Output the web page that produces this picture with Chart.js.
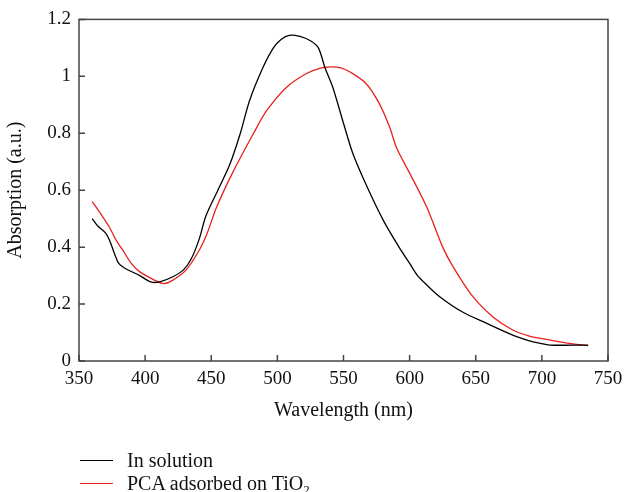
<!DOCTYPE html>
<html>
<head>
<meta charset="utf-8">
<script src="https://cdn.jsdelivr.net/npm/chart.js@4"></script>
<style>
  html, body { margin: 0; padding: 0; background: #fff; }
  #wrap { position: relative; width: 625px; height: 492px; }
  #legend { position: absolute; left: 80px; top: 449px; font-family: "Liberation Serif", "DejaVu Serif", serif; font-size: 20px; color: #111; }
  .item { display: flex; align-items: center; height: 23px; }
  .swatch { width: 33px; height: 0; border-top: 1.5px solid #000; margin-right: 14px; }
  sub { font-size: 13px; vertical-align: -4px; line-height: 0; }
</style>
</head>
<body>
<div id="wrap">
  <canvas id="chart" width="625" height="492"></canvas>
  <div id="legend">
    <div class="item"><span class="swatch"></span><span>In solution</span></div>
    <div class="item"><span class="swatch" style="border-color:#e8201f"></span><span>PCA adsorbed on TiO<sub>2</sub></span></div>
  </div>
</div>
<script>
// wavelength (nm) / absorption
const wlSolution = [360, 364, 370, 373, 377, 380, 385, 396, 404, 411, 421, 429, 435, 441, 446, 455, 464, 472, 479, 489, 497, 503, 509, 517, 525, 531, 536, 542, 550, 557, 568, 580, 592, 600, 606, 613, 623, 640, 658, 678, 690, 698, 706, 735];
const absSolution = [0.50, 0.475, 0.45, 0.425, 0.375, 0.343, 0.325, 0.30, 0.278, 0.278, 0.296, 0.32, 0.36, 0.43, 0.51, 0.60, 0.69, 0.80, 0.915, 1.03, 1.10, 1.13, 1.144, 1.14, 1.125, 1.10, 1.03, 0.96, 0.835, 0.73, 0.61, 0.495, 0.40, 0.343, 0.30, 0.267, 0.225, 0.172, 0.133, 0.091, 0.072, 0.063, 0.056, 0.056];

const wlAdsorbed = [360, 366, 373, 378, 383, 390, 396, 406, 414, 421, 431, 441, 447, 454, 466, 482, 492, 507, 522, 532, 540, 548, 555, 567, 577, 585, 590, 600, 613, 625, 633, 648, 663, 678, 690, 698, 719, 735];
const absAdsorbed = [0.56, 0.52, 0.47, 0.425, 0.39, 0.34, 0.313, 0.287, 0.272, 0.284, 0.32, 0.39, 0.45, 0.54, 0.66, 0.80, 0.88, 0.962, 1.01, 1.028, 1.033, 1.03, 1.015, 0.975, 0.905, 0.82, 0.75, 0.66, 0.54, 0.40, 0.33, 0.225, 0.155, 0.109, 0.088, 0.08, 0.063, 0.054];

const xTicks = [350, 400, 450, 500, 550, 600, 650, 700, 750];
const yTicks = [0, 0.2, 0.4, 0.6, 0.8, 1, 1.2];

const toPoints = (xs, ys) => xs.map((x, i) => ({ x: x, y: ys[i] }));

const axisColor = '#444';
const tickFont = { family: '"Liberation Serif", "DejaVu Serif", serif', size: 19 };
const titleFont = { family: '"Liberation Serif", "DejaVu Serif", serif', size: 20 };

// inward ticks + closing box
const frame = {
    id: 'frame',
    afterDraw(chart) {
        const { ctx, chartArea: a, scales } = chart;
        ctx.save();
        ctx.strokeStyle = axisColor;
        ctx.lineWidth = 1.5;
        ctx.strokeRect(a.left, a.top, a.right - a.left, a.bottom - a.top);
        ctx.beginPath();
        xTicks.forEach(v => {
            const px = scales.x.getPixelForValue(v);
            ctx.moveTo(px, a.bottom);
            ctx.lineTo(px, a.bottom - 6);
        });
        yTicks.forEach(v => {
            const py = scales.y.getPixelForValue(v);
            ctx.moveTo(a.left, py);
            ctx.lineTo(a.left + 6, py);
        });
        ctx.stroke();
        ctx.restore();
    }
};

new Chart(document.getElementById('chart'), {
    type: 'line',
    data: {
        datasets: [{
            label: 'In solution',
            data: toPoints(wlSolution, absSolution),
            borderColor: '#000',
            borderWidth: 1.3,
            pointRadius: 0,
            tension: 0.3,
            fill: false
        }, {
            label: 'PCA adsorbed on TiO2',
            data: toPoints(wlAdsorbed, absAdsorbed),
            borderColor: '#e8201f',
            borderWidth: 1.3,
            pointRadius: 0,
            tension: 0.3,
            fill: false
        }]
    },
    options: {
        responsive: false,
        animation: false,
        layout: { padding: { top: 19, right: 17, bottom: 65, left: 0 } },
        plugins: { legend: { display: false }, tooltip: { enabled: false } },
        scales: {
            x: {
                type: 'linear',
                min: 350,
                max: 750,
                afterBuildTicks: s => { s.ticks = xTicks.map(v => ({ value: v })); },
                afterFit: s => { s.height = 66; s.paddingLeft = 0; s.paddingRight = 0; },
                ticks: { color: '#111', font: tickFont, padding: 7, maxRotation: 0, callback: v => String(v) },
                grid: { display: false, drawTicks: false },
                border: { display: false },
                title: { display: true, text: 'Wavelength (nm)', color: '#111', font: titleFont, padding: { top: 2 } }
            },
            y: {
                min: 0,
                max: 1.2,
                afterBuildTicks: s => { s.ticks = yTicks.map(v => ({ value: v })); },
                afterFit: s => { s.width = 79; },
                ticks: { color: '#111', font: tickFont, padding: 8, callback: v => String(v) },
                grid: { display: false, drawTicks: false },
                border: { display: false },
                title: { display: true, text: 'Absorption (a.u.)', color: '#111', font: titleFont, padding: { bottom: 2 } }
            }
        }
    },
    plugins: [frame]
});
</script>
</body>
</html>
